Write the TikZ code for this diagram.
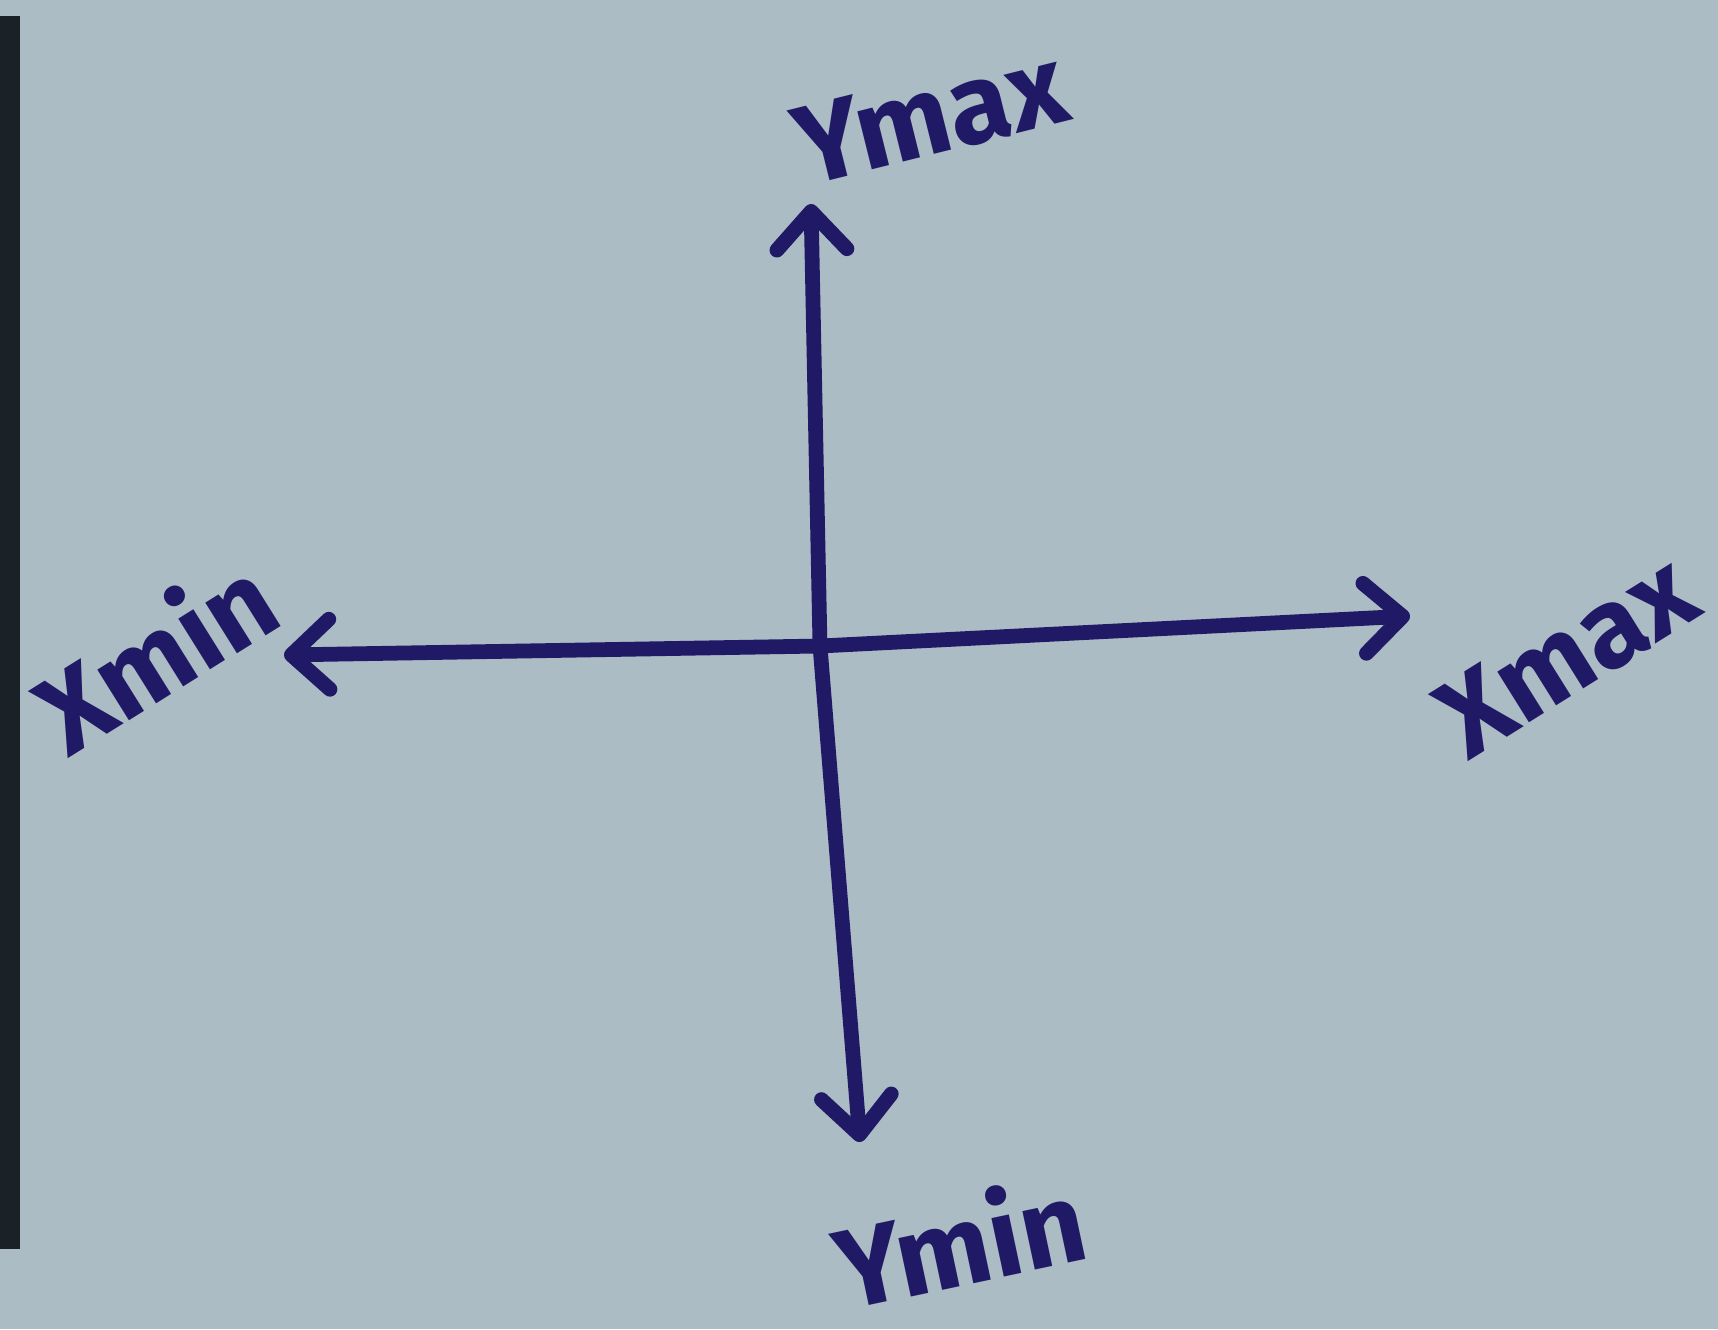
\documentclass[tikz,border=0pt]{standalone}
\usepackage{fontspec}
\setmainfont{Fira Sans}
\usepackage{tikz}
\usetikzlibrary{arrows.meta,calc}
\definecolor{paper}{HTML}{ACBCC5}
\definecolor{ink}{HTML}{201A66}
\definecolor{bar}{HTML}{1A2228}

\begin{document}
\begin{tikzpicture}[x=0.01cm,y=-0.01cm,line width=4.2pt,
    axis/.style={ink,line cap=round,line join=round,-{Straight Barb[length=3.8mm,width=7mm,round]}},
    lbl/.style={ink,font=\fontsize{32}{36}\selectfont\bfseries,inner sep=0pt}]
  \fill[paper] (0,0) rectangle (1718,1329);
  \useasboundingbox (0,0) rectangle (1718,1329);
  \fill[bar] (0,16) rectangle (20,1249);
  % axes
  \coordinate (o) at (820,646);
  \coordinate (ytop) at (811,204);
  \coordinate (ybot) at (860,1142);
  \coordinate (xlft) at (284,655);
  \coordinate (xrgt) at (1410,616);
  \draw[axis] (o) -- (ytop);
  \draw[axis] (o) -- (ybot);
  \draw[axis] (o) -- (xlft);
  \draw[axis] (o) -- (xrgt);
  % labels
  \node[lbl,rotate=14] (ymaxlbl) at (931,116) {Ymax};
  \node[lbl,rotate=12] (yminlbl) at (959,1240) {Ymin};
  \node[lbl,rotate=32] (xminlbl) at (153,652) {Xmin};
  \node[lbl,rotate=32] (xmaxlbl) at (1567,655) {Xmax};
\end{tikzpicture}
\end{document}
